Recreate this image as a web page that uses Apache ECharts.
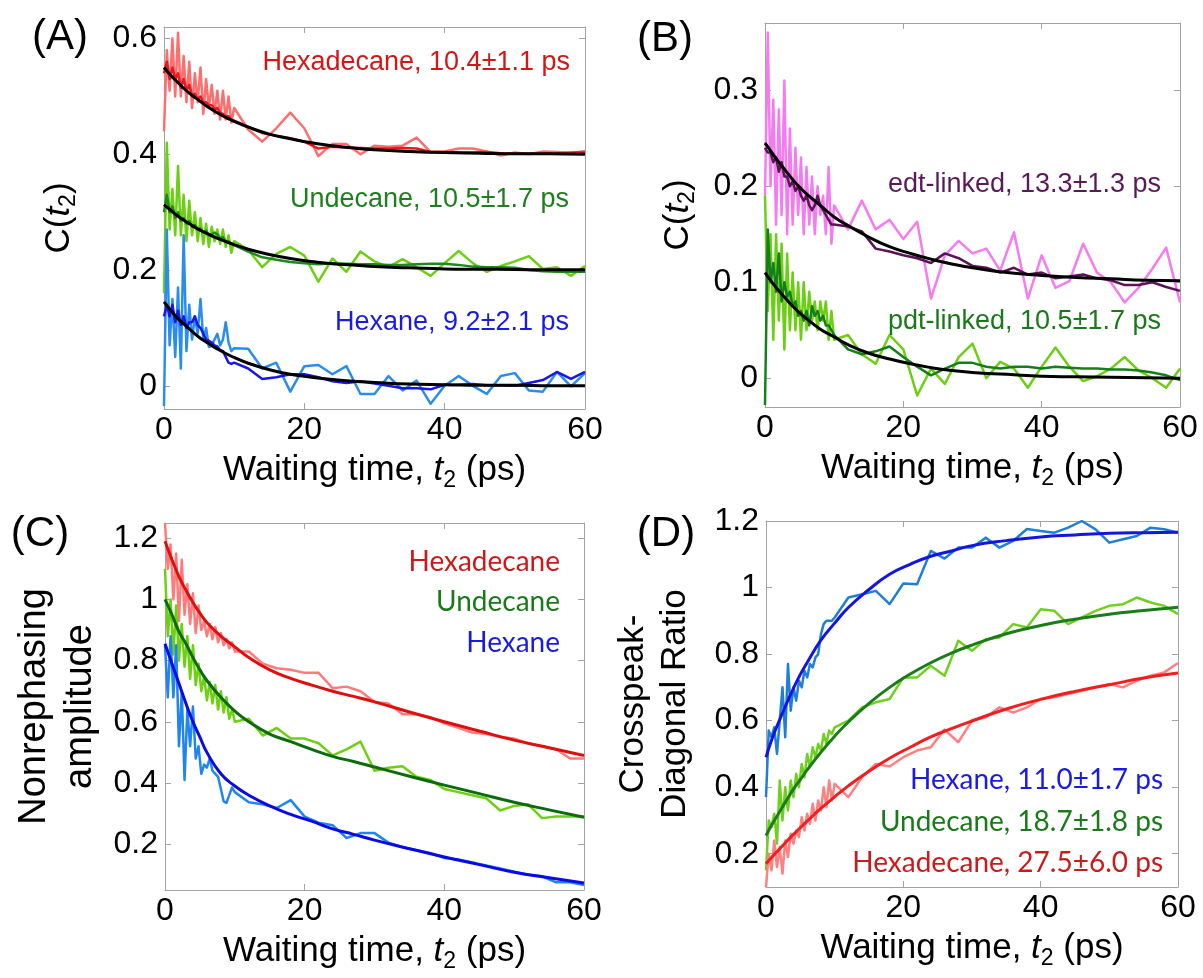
<!DOCTYPE html>
<html>
<head>
<meta charset="utf-8">
<script src="https://cdn.jsdelivr.net/npm/echarts@6/dist/echarts.min.js"></script>
<style>
html, body { margin: 0; padding: 0; background: #fff; }
#chart { width: 1203px; height: 978px; }
</style>
</head>
<body>
<div id="chart"></div>
<script>
// waiting time t2 (ps) of the measured points, and of the fitted curves
const tData = [0, 0.4, 0.8, 1.2, 1.6, 2, 2.4, 2.8, 3.2, 3.6, 4, 4.4, 4.8, 5.2, 5.6, 6, 6.4, 6.8, 7.2, 7.6, 8, 8.4, 8.8, 9.2, 9.6, 10,
    12, 14, 16, 18, 20, 22, 24, 26, 28, 30, 32, 34, 36, 38, 40, 42, 44, 46, 48, 50, 52, 54, 56, 58, 60];
const tFit = [0, 1, 2, 3, 4, 5, 6, 8, 10, 12, 15, 18, 21, 24, 27, 30, 35, 40, 45, 50, 55, 60];

// (A) C(t2) by solvent
const aHexRaw = [0.44, 0.58, 0.51, 0.60, 0.50, 0.61, 0.50, 0.57, 0.49, 0.56, 0.48, 0.54, 0.49, 0.55, 0.47, 0.53, 0.48, 0.52, 0.47, 0.51, 0.46, 0.51, 0.46, 0.50, 0.455, 0.48,
    0.443, 0.422, 0.445, 0.472, 0.445, 0.397, 0.418, 0.418, 0.400, 0.415, 0.413, 0.415, 0.429, 0.404, 0.405, 0.41, 0.41, 0.405, 0.398, 0.403, 0.4, 0.405, 0.404, 0.402, 0.406];
const aHexAvg = [0.54, 0.56, 0.53, 0.55, 0.53, 0.54, 0.515, 0.53, 0.51, 0.52, 0.50, 0.505, 0.495, 0.50, 0.49, 0.49, 0.485, 0.485, 0.478, 0.48, 0.472, 0.47, 0.465, 0.466, 0.46, 0.458,
    0.448, 0.437, 0.432, 0.428, 0.422, 0.410, 0.413, 0.412, 0.411, 0.410, 0.410, 0.411, 0.410, 0.404, 0.404, 0.403, 0.403, 0.404, 0.402, 0.401, 0.401, 0.401, 0.402, 0.403, 0.403];
const aHexFit = [0.550, 0.536, 0.524, 0.512, 0.502, 0.493, 0.484, 0.469, 0.457, 0.447, 0.435, 0.427, 0.420, 0.415, 0.411, 0.408, 0.405, 0.403, 0.402, 0.401, 0.401, 0.400];
const aUndRaw = [0.16, 0.42, 0.27, 0.34, 0.26, 0.38, 0.26, 0.33, 0.25, 0.32, 0.26, 0.30, 0.25, 0.29, 0.245, 0.28, 0.24, 0.275, 0.25, 0.27, 0.245, 0.27, 0.24, 0.26, 0.23, 0.25,
    0.235, 0.205, 0.228, 0.24, 0.225, 0.18, 0.22, 0.197, 0.232, 0.215, 0.205, 0.219, 0.205, 0.19, 0.212, 0.233, 0.212, 0.197, 0.207, 0.215, 0.224, 0.202, 0.205, 0.19, 0.207];
const aUndAvg = [0.30, 0.33, 0.30, 0.31, 0.29, 0.30, 0.285, 0.29, 0.28, 0.285, 0.275, 0.278, 0.27, 0.272, 0.265, 0.268, 0.26, 0.262, 0.265, 0.262, 0.255, 0.257, 0.25, 0.25, 0.245, 0.243,
    0.232, 0.222, 0.218, 0.214, 0.212, 0.210, 0.212, 0.211, 0.210, 0.210, 0.209, 0.209, 0.210, 0.211, 0.211, 0.209, 0.206, 0.205, 0.205, 0.204, 0.200, 0.198, 0.197, 0.197, 0.197];
const aUndFit = [0.313, 0.303, 0.293, 0.285, 0.277, 0.270, 0.264, 0.253, 0.244, 0.236, 0.227, 0.220, 0.215, 0.211, 0.209, 0.206, 0.204, 0.202, 0.2015, 0.201, 0.2005, 0.2005];
const aHxRaw = [-0.035, 0.27, 0.07, 0.15, 0.05, 0.17, 0.03, 0.26, 0.06, 0.14, 0.08, 0.12, 0.09, 0.15, 0.08, 0.10, 0.067, 0.07, 0.08, 0.09, 0.07, 0.08, 0.11, 0.075, 0.06, 0.065,
    0.064, 0.03, 0.04, -0.01, 0.034, 0.036, 0.02, 0.034, -0.014, -0.014, 0.017, -0.008, 0.009, -0.031, 0.0, 0.017, 0.0, -0.014, 0.017, 0.022, -0.008, -0.01, 0.024, -0.001, 0.022];
const aHxAvg = [0.12, 0.14, 0.12, 0.14, 0.11, 0.13, 0.105, 0.12, 0.10, 0.11, 0.11, 0.12, 0.105, 0.10, 0.09, 0.08, 0.078, 0.075, 0.07, 0.068, 0.062, 0.06, 0.05, 0.04, 0.038, 0.04,
    0.03, 0.012, 0.015, 0.02, 0.02, 0.015, 0.008, 0.005, 0.008, 0.004, 0.0, -0.004, -0.004, -0.006, 0.002, 0.002, 0.003, 0.001, 0.001, 0.0, 0.005, 0.01, 0.024, 0.012, 0.024];
const aHxFit = [0.145, 0.130, 0.116, 0.105, 0.094, 0.084, 0.076, 0.061, 0.049, 0.039, 0.028, 0.020, 0.015, 0.011, 0.008, 0.006, 0.003, 0.002, 0.001, 0.001, 0.0, 0.0];

// (B) C(t2) by linker
const bEdtRaw = [0.19, 0.36, 0.20, 0.29, 0.16, 0.28, 0.17, 0.31, 0.15, 0.26, 0.16, 0.24, 0.17, 0.23, 0.15, 0.22, 0.16, 0.21, 0.15, 0.20, 0.17, 0.19, 0.15, 0.22, 0.14, 0.18,
    0.155, 0.185, 0.155, 0.165, 0.145, 0.163, 0.083, 0.128, 0.143, 0.13, 0.135, 0.112, 0.152, 0.083, 0.128, 0.094, 0.101, 0.14, 0.11, 0.10, 0.079, 0.094, 0.114, 0.136, 0.079];
const bEdtAvg = [0.24, 0.235, 0.235, 0.225, 0.23, 0.215, 0.225, 0.21, 0.21, 0.20, 0.205, 0.195, 0.20, 0.19, 0.185, 0.19, 0.18, 0.175, 0.18, 0.19, 0.18, 0.175, 0.17, 0.165, 0.16, 0.16,
    0.158, 0.153, 0.135, 0.132, 0.128, 0.125, 0.12, 0.13, 0.125, 0.117, 0.115, 0.11, 0.115, 0.108, 0.11, 0.104, 0.106, 0.108, 0.104, 0.102, 0.097, 0.097, 0.1, 0.095, 0.091];
const bEdtFit = [0.245, 0.235, 0.225, 0.216, 0.207, 0.199, 0.192, 0.180, 0.168, 0.159, 0.147, 0.137, 0.130, 0.124, 0.119, 0.115, 0.110, 0.107, 0.105, 0.1035, 0.102, 0.1015];
const bPdtRaw = [0.19, 0.07, 0.15, 0.04, 0.15, 0.06, 0.14, 0.03, 0.13, 0.05, 0.11, 0.05, 0.10, 0.04, 0.10, 0.05, 0.09, 0.06, 0.08, 0.05, 0.08, 0.06, 0.08, 0.04, 0.07, 0.04,
    0.045, 0.025, 0.015, 0.045, 0.03, -0.018, 0.01, -0.006, 0.022, 0.036, 0.0, 0.017, 0.01, -0.01, 0.012, 0.032, 0.012, -0.003, 0.002, 0.01, 0.022, 0.008, 0.0, -0.01, 0.01];
const bPdtAvg = [-0.028, 0.155, 0.10, 0.12, 0.09, 0.13, 0.08, 0.10, 0.085, 0.09, 0.075, 0.08, 0.065, 0.07, 0.06, 0.07, 0.055, 0.075, 0.065, 0.07, 0.06, 0.065, 0.055, 0.055, 0.05, 0.045,
    0.03, 0.025, 0.028, 0.033, 0.022, 0.012, 0.003, 0.01, 0.016, 0.016, 0.012, 0.01, 0.012, 0.012, 0.01, 0.012, 0.011, 0.01, 0.01, 0.009, 0.009, 0.008, 0.006, 0.003, -0.002];
const bPdtFit = [0.110, 0.100, 0.091, 0.083, 0.075, 0.068, 0.062, 0.051, 0.043, 0.035, 0.026, 0.020, 0.015, 0.011, 0.008, 0.006, 0.004, 0.002, 0.0015, 0.001, 0.0005, 0.0];

// (C) nonrephasing amplitude
const cHexRaw = [1.25, 1.10, 1.18, 1.0, 1.15, 0.93, 1.13, 0.95, 1.05, 0.92, 1.02, 0.89, 0.98, 0.90, 0.93, 0.88, 0.92, 0.87, 0.91, 0.86, 0.89, 0.85, 0.87, 0.84, 0.86, 0.83,
    0.83, 0.79, 0.775, 0.77, 0.76, 0.76, 0.71, 0.715, 0.70, 0.665, 0.66, 0.625, 0.625, 0.615, 0.595, 0.58, 0.565, 0.56, 0.55, 0.545, 0.53, 0.52, 0.51, 0.48, 0.48];
const cHexFit = [1.19, 1.13, 1.075, 1.03, 0.99, 0.955, 0.925, 0.88, 0.845, 0.81, 0.77, 0.742, 0.72, 0.70, 0.683, 0.665, 0.632, 0.60, 0.57, 0.54, 0.515, 0.49];
const cUndRaw = [1.10, 0.88, 1.0, 0.82, 0.98, 0.80, 0.92, 0.78, 0.88, 0.74, 0.85, 0.72, 0.79, 0.70, 0.75, 0.67, 0.73, 0.66, 0.72, 0.64, 0.70, 0.63, 0.68, 0.61, 0.64, 0.60,
    0.61, 0.555, 0.58, 0.545, 0.545, 0.53, 0.49, 0.51, 0.535, 0.44, 0.45, 0.455, 0.42, 0.41, 0.38, 0.37, 0.36, 0.35, 0.31, 0.325, 0.33, 0.285, 0.29, 0.29, 0.29];
const cUndFit = [1.0, 0.95, 0.895, 0.855, 0.81, 0.77, 0.735, 0.68, 0.635, 0.60, 0.56, 0.535, 0.51, 0.487, 0.47, 0.452, 0.422, 0.393, 0.365, 0.337, 0.312, 0.288];
const cHxRaw = [0.85, 0.68, 0.88, 0.68, 0.85, 0.52, 0.70, 0.41, 0.64, 0.52, 0.65, 0.48, 0.52, 0.43, 0.46, 0.45, 0.48, 0.44, 0.43, 0.42, 0.38, 0.34, 0.335, 0.36, 0.385, 0.37,
    0.337, 0.33, 0.318, 0.344, 0.29, 0.27, 0.262, 0.22, 0.236, 0.236, 0.205, 0.19, 0.18, 0.17, 0.155, 0.15, 0.14, 0.13, 0.12, 0.11, 0.1, 0.095, 0.075, 0.075, 0.066];
const cHxFit = [0.855, 0.79, 0.725, 0.66, 0.60, 0.55, 0.50, 0.43, 0.39, 0.36, 0.325, 0.297, 0.275, 0.25, 0.232, 0.213, 0.185, 0.158, 0.133, 0.108, 0.09, 0.073];

// (D) crosspeak / diagonal ratio
const dHxRaw = [0.37, 0.57, 0.55, 0.58, 0.50, 0.60, 0.70, 0.55, 0.77, 0.63, 0.70, 0.66, 0.72, 0.70, 0.75, 0.73, 0.77, 0.76, 0.79, 0.80, 0.86, 0.89, 0.90, 0.90, 0.90, 0.91,
    0.97, 0.98, 0.99, 0.95, 1.012, 1.01, 1.11, 1.087, 1.12, 1.12, 1.15, 1.12, 1.14, 1.176, 1.17, 1.165, 1.18, 1.20, 1.175, 1.135, 1.145, 1.155, 1.18, 1.175, 1.165];
const dHxFit = [0.49, 0.552, 0.603, 0.652, 0.697, 0.739, 0.775, 0.842, 0.893, 0.94, 0.994, 1.04, 1.07, 1.094, 1.110, 1.126, 1.141, 1.152, 1.158, 1.163, 1.165, 1.166];
const dUndRaw = [0.15, 0.30, 0.28, 0.32, 0.23, 0.42, 0.30, 0.40, 0.33, 0.42, 0.37, 0.44, 0.40, 0.47, 0.43, 0.50, 0.46, 0.52, 0.49, 0.53, 0.51, 0.56, 0.53, 0.57, 0.56, 0.58,
    0.60, 0.64, 0.655, 0.665, 0.73, 0.73, 0.765, 0.735, 0.84, 0.81, 0.845, 0.85, 0.89, 0.88, 0.935, 0.93, 0.89, 0.91, 0.93, 0.945, 0.95, 0.97, 0.955, 0.945, 0.92];
const dUndFit = [0.255, 0.292, 0.327, 0.361, 0.394, 0.423, 0.452, 0.505, 0.553, 0.596, 0.652, 0.700, 0.740, 0.774, 0.803, 0.827, 0.861, 0.886, 0.905, 0.920, 0.931, 0.941];
const dHexRaw = [0.10, 0.20, 0.15, 0.24, 0.16, 0.22, 0.14, 0.24, 0.19, 0.26, 0.23, 0.27, 0.25, 0.31, 0.27, 0.32, 0.29, 0.35, 0.30, 0.36, 0.33, 0.40, 0.34, 0.42, 0.36, 0.41,
    0.37, 0.43, 0.47, 0.462, 0.49, 0.51, 0.52, 0.573, 0.535, 0.60, 0.61, 0.64, 0.624, 0.64, 0.665, 0.67, 0.68, 0.69, 0.70, 0.71, 0.70, 0.72, 0.735, 0.745, 0.773];
const dHexFit = [0.170, 0.193, 0.215, 0.237, 0.258, 0.278, 0.298, 0.336, 0.371, 0.404, 0.448, 0.487, 0.520, 0.551, 0.576, 0.599, 0.635, 0.664, 0.688, 0.708, 0.728, 0.743];

// tick labels
const xTicks = [0, 20, 40, 60];
const aTicks = [0, 0.2, 0.4, 0.6];
const bTicks = [0, 0.1, 0.2, 0.3];
const cTicks = [0.2, 0.4, 0.6, 0.8, 1, 1.2];
const dTicks = [0.2, 0.4, 0.6, 0.8, 1, 1.2];

const FONT = '"Liberation Sans", Arial, sans-serif';
const FONT_CAL = 'Lato, "Open Sans", sans-serif';
const BOX = '#a3a3a3';

let rich = {
    n: {fontFamily: FONT, fontSize: 35, color: '#000'},
    i: {fontFamily: FONT, fontSize: 35, fontStyle: 'italic', color: '#000'},
    s: {fontFamily: FONT, fontSize: 23, color: '#000', padding: [20, 0, 0, 0]}
};
let xName = '{n|Waiting time, }{i|t}{s|2}{n| (ps)}';
let cName = '{n|C(}{i|t}{s|2}{n|)}';

let panels = [
    {rect: {left: 164, top: 27, width: 421, height: 382}, yMin: -0.04, yMax: 0.62, ticks: aTicks,
        yName: cName, yGap: 84, yFont: 35},
    {rect: {left: 765, top: 23, width: 415, height: 384}, yMin: -0.03, yMax: 0.37, ticks: bTicks,
        yName: cName, yGap: 66, yFont: 35},
    {rect: {left: 165, top: 523, width: 419, height: 367}, yMin: 0.05, yMax: 1.25, ticks: cTicks,
        yName: 'Nonrephasing\namplitude', yGap: 62, yFont: 38},
    {rect: {left: 766, top: 521, width: 412, height: 366}, yMin: 0.1, yMax: 1.2, ticks: dTicks,
        yName: 'Crosspeak-\nDiagonal Ratio', yGap: 70, yFont: 35}
];

let grids = [], xAxes = [], yAxes = [], series = [];

panels.forEach((p, i) => {
    grids.push(Object.assign({show: false}, p.rect));
    let line = {show: true, onZero: false, lineStyle: {color: BOX, width: 1}};
    let tick = {show: true, inside: true, length: 6, lineStyle: {color: BOX, width: 1}};
    xAxes.push({
        gridIndex: i, type: 'value', min: 0, max: 60, interval: 20, position: 'bottom',
        axisLine: line, axisTick: tick, splitLine: {show: false},
        axisLabel: {fontFamily: FONT, fontSize: 32, color: '#000', margin: 5},
        name: xName, nameLocation: 'middle', nameGap: 40,
        nameTextStyle: {rich: rich}
    });
    xAxes.push({
        gridIndex: i, type: 'value', min: 0, max: 60, interval: 20, position: 'top',
        axisLine: line, axisTick: tick, splitLine: {show: false}, axisLabel: {show: false}
    });
    yAxes.push({
        gridIndex: i, type: 'value', min: p.yMin, max: p.yMax, position: 'left',
        axisLine: line, axisTick: Object.assign({customValues: p.ticks}, tick), splitLine: {show: false},
        axisLabel: {customValues: p.ticks, fontFamily: FONT, fontSize: 32, color: '#000', margin: 7},
        name: p.yName, nameLocation: 'middle', nameGap: p.yGap, nameRotate: 90,
        nameTextStyle: {rich: rich, fontFamily: FONT, fontSize: p.yFont, color: '#000', lineHeight: p.yFont * 1.2}
    });
    yAxes.push({
        gridIndex: i, type: 'value', min: p.yMin, max: p.yMax, position: 'right',
        axisLine: line, axisTick: Object.assign({customValues: p.ticks}, tick), splitLine: {show: false},
        axisLabel: {show: false}
    });
});

function addLine(panel, xs, ys, color, width, z){
    series.push({
        type: 'line', xAxisIndex: panel * 2, yAxisIndex: panel * 2,
        data: xs.map((t, k) => [t, ys[k]]),
        symbol: 'none', smooth: xs === tFit, z: z,
        lineStyle: {color: color, width: width, join: 'round'},
        silent: true, animation: false
    });
}

// A
addLine(0, tData, aHexRaw, '#ff6e6e', 2.5, 2);
addLine(0, tData, aUndRaw, '#6dcf14', 2.5, 2);
addLine(0, tData, aHxRaw, '#2b8cf0', 2.5, 2);
addLine(0, tData, aHexAvg, '#e8191e', 2.5, 3);
addLine(0, tData, aUndAvg, '#1d8a1d', 2.5, 3);
addLine(0, tData, aHxAvg, '#1717e8', 2.5, 3);
addLine(0, tFit, aHexFit, '#000', 3, 4);
addLine(0, tFit, aUndFit, '#000', 3, 4);
addLine(0, tFit, aHxFit, '#000', 3, 4);
// B
addLine(1, tData, bEdtRaw, '#f57cf0', 2.5, 2);
addLine(1, tData, bPdtRaw, '#6dcf14', 2.5, 2);
addLine(1, tData, bEdtAvg, '#5c1458', 2.5, 3);
addLine(1, tData, bPdtAvg, '#15801a', 2.5, 3);
addLine(1, tFit, bEdtFit, '#000', 3, 4);
addLine(1, tFit, bPdtFit, '#000', 3, 4);
// C
addLine(2, tData, cHexRaw, '#ff7b7b', 2.5, 2);
addLine(2, tData, cUndRaw, '#6dd012', 2.5, 2);
addLine(2, tData, cHxRaw, '#2185f0', 2.5, 2);
addLine(2, tFit, cHexFit, '#dd0f0f', 3, 4);
addLine(2, tFit, cUndFit, '#0d6b0d', 3, 4);
addLine(2, tFit, cHxFit, '#0a0ae6', 3, 4);
// D
addLine(3, tData, dHxRaw, '#1f7fd8', 2.5, 2);
addLine(3, tData, dUndRaw, '#70d020', 2.5, 2);
addLine(3, tData, dHexRaw, '#ff8080', 2.5, 2);
addLine(3, tFit, dHxFit, '#1515e0', 3, 4);
addLine(3, tFit, dUndFit, '#1a7d1a', 3, 4);
addLine(3, tFit, dHexFit, '#f01e1e', 3, 4);

function label(x, y, text, color, size, font){
    return {type: 'text', x: x, y: y, z: 10,
        style: {text: text, fill: color, fontSize: size, fontFamily: font, align: 'right', verticalAlign: 'middle'}};
}
function panelTag(x, y, text){
    return {type: 'text', x: x, y: y, z: 10,
        style: {text: text, fill: '#000', fontSize: 42, fontFamily: FONT, align: 'center', verticalAlign: 'middle'}};
}

let graphic = [
    panelTag(60, 37, '(A)'), panelTag(665, 39, '(B)'), panelTag(40, 534, '(C)'), panelTag(666, 534, '(D)'),
    label(570, 63, 'Hexadecane, 10.4±1.1 ps', '#d01818', 27, FONT),
    label(569, 200, 'Undecane, 10.5±1.7 ps', '#1f7f1f', 27, FONT),
    label(569, 323, 'Hexane, 9.2±2.1 ps', '#1a1ae0', 27, FONT),
    label(1161, 185, 'edt-linked, 13.3±1.3 ps', '#5a1a5a', 27, FONT),
    label(1161, 322, 'pdt-linked, 10.5±1.7 ps', '#1a7a1a', 27, FONT),
    label(560, 562, 'Hexadecane', '#cc1a1a', 28, FONT_CAL),
    label(560, 602, 'Undecane', '#1a7a1a', 28, FONT_CAL),
    label(560, 643, 'Hexane', '#1a1ae6', 28, FONT_CAL),
    label(1163, 780, 'Hexane, 11.0±1.7 ps', '#1a1ae6', 28, FONT_CAL),
    label(1163, 822, 'Undecane, 18.7±1.8 ps', '#1a7a1a', 28, FONT_CAL),
    label(1163, 863, 'Hexadecane, 27.5±6.0 ps', '#cc1a1a', 28, FONT_CAL)
];

let myChart = echarts.init(document.getElementById('chart'));
myChart.setOption({
    backgroundColor: '#fff',
    animation: false,
    grid: grids,
    xAxis: xAxes,
    yAxis: yAxes,
    series: series,
    graphic: graphic
});
</script>
</body>
</html>
